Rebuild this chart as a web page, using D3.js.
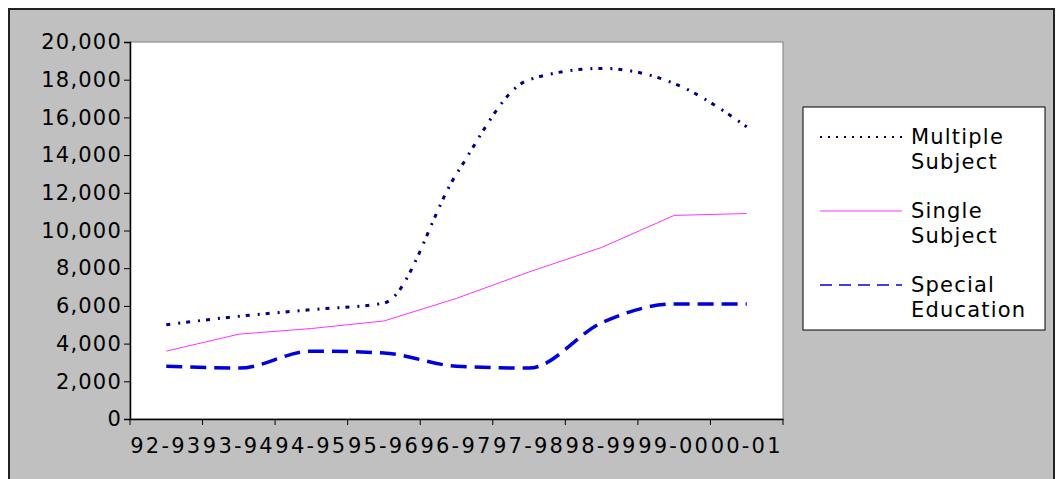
<!DOCTYPE html>
<html><head><meta charset="utf-8">
<script src="https://cdn.jsdelivr.net/npm/d3@7"></script>
<style>body{margin:0;background:#fff;} text{font-family:"DejaVu Sans",sans-serif;}</style>
</head><body>
<div id="chart"></div>
<script>
const years = ["92-93","93-94","94-95","95-96","96-97","97-98","98-99","99-00","00-01"];
const multiple = [5000, 5450, 5800, 6150, 13000, 18000, 18600, 17800, 15500];
const single = [3600, 4500, 4800, 5200, 6400, 7800, 9100, 10800, 10900];
const special = [2800, 2700, 3600, 3500, 2800, 2700, 5100, 6100, 6100];
const yTicks = [0,2000,4000,6000,8000,10000,12000,14000,16000,18000,20000];

const w = 1057, h = 479;
const svg = d3.select("#chart").append("svg").attr("width", w).attr("height", h);
svg.append("rect").attr("x",0).attr("y",0).attr("width",w).attr("height",h).attr("fill","#fff");
svg.append("rect").attr("x",8).attr("y",8).attr("width",1046).attr("height",471).attr("fill","#c0c0c0");
svg.append("path").attr("d","M9,479V9H1054V479").attr("fill","none").attr("stroke","#222").attr("stroke-width",2);

const x = d3.scaleBand().domain(years).range([130, 783]);
const y = d3.scaleLinear().domain([0, 20000]).range([419, 42]);

svg.append("rect").attr("x",130).attr("y",42).attr("width",653).attr("height",377)
  .attr("fill","#fff").attr("stroke","#808080");

const fmt = d3.format(",");
svg.append("g").attr("transform","translate(130,0)")
  .call(d3.axisLeft(y).tickValues(yTicks).tickFormat(fmt).tickSize(6).tickPadding(2))
  .call(g => { g.select(".domain").attr("stroke","#000").attr("stroke-width",1.5);
    g.selectAll("text").attr("font-size",21).attr("letter-spacing",1.2).attr("fill","#000"); });

svg.append("g").attr("transform","translate(0,419)")
  .call(d3.axisBottom(x).tickSize(0).tickPadding(19))
  .call(g => { g.select(".domain").attr("stroke","#000").attr("stroke-width",1.5);
    g.selectAll("text").attr("font-size",21).attr("letter-spacing",2.2).attr("fill","#000"); });
svg.append("g").selectAll("line").data(years.concat([null])).join("line")
  .attr("x1",(d,i)=>130+i*x.step()).attr("x2",(d,i)=>130+i*x.step())
  .attr("y1",419).attr("y2",425).attr("stroke","#000");

const cx = d => x(d) + x.bandwidth()/2;
const smooth = d3.line().x((d,i)=>cx(years[i])).y(d=>y(d)).curve(d3.curveMonotoneX);
const straight = d3.line().x((d,i)=>cx(years[i])).y(d=>y(d));

svg.append("path").attr("d", smooth(multiple)).attr("fill","none")
  .attr("stroke","#000080").attr("stroke-width",3).attr("stroke-dasharray","4,8,2,6");
svg.append("path").attr("d", straight(single)).attr("fill","none")
  .attr("stroke","#ff33ff").attr("stroke-width",1);
svg.append("path").attr("d", smooth(special)).attr("fill","none")
  .attr("stroke","#0000dd").attr("stroke-width",3.5).attr("stroke-dasharray","16,8");

const lg = svg.append("g");
lg.append("rect").attr("x",803).attr("y",107).attr("width",242).attr("height",223)
  .attr("fill","#fff").attr("stroke","#000");
const items = [
  {l:["Multiple","Subject"], c:"#000080", sw:2, da:"2,6"},
  {l:["Single","Subject"], c:"#ff33ff", sw:1, da:null},
  {l:["Special","Education"], c:"#0000dd", sw:1.5, da:"12,7"}
];
items.forEach((it,i) => {
  const yy = 137 + i*74;
  lg.append("line").attr("x1",820).attr("x2",902).attr("y1",yy).attr("y2",yy)
    .attr("stroke",it.c).attr("stroke-width",it.sw).attr("stroke-dasharray",it.da);
  it.l.forEach((t,j) => lg.append("text").attr("x",911).attr("y",yy+7+j*25)
    .attr("font-size",21).attr("letter-spacing",1.2).attr("fill","#000").text(t));
});
</script>
</body></html>
